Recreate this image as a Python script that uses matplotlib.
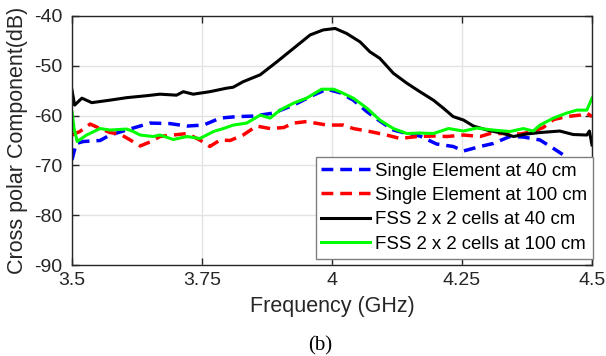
import matplotlib
matplotlib.use("Agg")
import matplotlib.pyplot as plt

# Single element at 40 cm (blue dashed)
freq_se40 = [3.500, 3.508, 3.522, 3.554, 3.573, 3.605, 3.650, 3.688, 3.721, 3.753,
             3.785, 3.817, 3.849, 3.887, 3.926, 3.964, 3.990, 4.015, 4.041, 4.067,
             4.092, 4.118, 4.144, 4.169, 4.201, 4.233, 4.253, 4.285, 4.310, 4.342,
             4.368, 4.400, 4.426, 4.445, 4.470, 4.500]
se40 = [-68.9, -65.6, -65.2, -65.0, -63.9, -62.9, -61.5, -61.6, -62.1, -61.9,
        -60.5, -60.2, -60.1, -59.5, -57.9, -55.9, -54.7, -55.4, -56.9, -59.2,
        -61.1, -62.9, -63.6, -64.1, -65.7, -66.2, -67.1, -66.2, -65.6, -64.2,
        -64.3, -64.9, -66.6, -67.9, -70.0, -72.0]

# Single element at 100 cm (red dashed)
freq_se100 = [3.500, 3.515, 3.535, 3.554, 3.573, 3.592, 3.612, 3.631, 3.650, 3.669,
              3.695, 3.721, 3.746, 3.765, 3.785, 3.804, 3.829, 3.855, 3.881, 3.907,
              3.926, 3.951, 3.990, 4.022, 4.041, 4.073, 4.105, 4.131, 4.163, 4.195,
              4.221, 4.253, 4.285, 4.304, 4.330, 4.362, 4.387, 4.406, 4.426, 4.451,
              4.477, 4.490, 4.500]
se100 = [-63.9, -63.2, -61.7, -62.6, -63.4, -63.7, -64.9, -66.1, -65.3, -64.2,
         -63.9, -63.6, -64.9, -66.2, -64.9, -65.0, -63.9, -62.1, -62.6, -62.4,
         -61.5, -61.2, -61.9, -61.9, -62.6, -63.2, -63.9, -64.6, -64.2, -64.1,
         -64.2, -63.9, -64.2, -63.6, -63.6, -63.7, -63.2, -62.4, -60.8, -60.2,
         -59.9, -59.5, -60.2]

# FSS 2 x 2 cells at 40 cm (black)
freq_fss40 = [3.500, 3.505, 3.519, 3.538, 3.573, 3.605, 3.644, 3.669, 3.701, 3.714,
              3.733, 3.765, 3.797, 3.810, 3.829, 3.862, 3.894, 3.926, 3.958, 3.983,
              4.006, 4.028, 4.054, 4.073, 4.092, 4.118, 4.144, 4.169, 4.195, 4.214,
              4.233, 4.253, 4.272, 4.298, 4.330, 4.349, 4.374, 4.400, 4.438, 4.464,
              4.490, 4.495, 4.500]
fss40 = [-54.9, -57.9, -56.5, -57.4, -56.9, -56.4, -56.0, -55.7, -55.9, -55.2,
         -55.7, -55.2, -54.5, -54.3, -53.2, -51.8, -49.2, -46.5, -43.8, -42.8,
         -42.5, -43.5, -45.2, -47.2, -48.5, -51.5, -53.5, -55.2, -56.9, -58.5,
         -60.2, -60.9, -62.1, -62.9, -63.6, -64.2, -63.7, -63.4, -63.1, -63.8,
         -63.9, -63.1, -65.9]

# FSS 2 x 2 cells at 100 cm (green)
freq_fss100 = [3.500, 3.504, 3.510, 3.528, 3.554, 3.573, 3.605, 3.618, 3.631, 3.656,
               3.669, 3.695, 3.721, 3.746, 3.772, 3.791, 3.810, 3.836, 3.862, 3.881,
               3.900, 3.926, 3.951, 3.980, 4.003, 4.015, 4.041, 4.067, 4.092, 4.118,
               4.144, 4.169, 4.195, 4.224, 4.253, 4.278, 4.310, 4.342, 4.368, 4.387,
               4.400, 4.426, 4.451, 4.471, 4.490, 4.500]
fss100 = [-59.2, -62.6, -65.2, -63.9, -62.6, -62.9, -62.7, -63.2, -63.9, -64.2,
          -63.9, -64.8, -64.2, -64.6, -63.2, -62.6, -61.9, -61.5, -59.9, -60.5,
          -58.9, -57.5, -56.5, -54.7, -54.7, -55.2, -56.5, -58.5, -60.9, -62.6,
          -63.6, -63.5, -63.6, -62.6, -63.1, -62.5, -62.9, -63.2, -62.6, -63.1,
          -61.9, -60.5, -59.5, -58.9, -58.9, -56.5]

x_ticks = [3.5, 3.75, 4.0, 4.25, 4.5]
x_tick_labels = ["3.5", "3.75", "4", "4.25", "4.5"]
y_ticks = [-90, -80, -70, -60, -50, -40]

plt.rcParams["font.family"] = ["Liberation Sans", "DejaVu Sans"]
plt.rcParams["axes.unicode_minus"] = False
text_color = "#262626"

fig = plt.figure(figsize=(6.06, 3.56), dpi=100)
fig.subplots_adjust(left=72 / 606, right=592 / 606, top=1 - 16 / 356, bottom=1 - 265 / 356)
ax = fig.add_subplot(111)

dash = (3.4, 2.0)
ax.plot(freq_se40, se40, color="#0000ff", lw=2.5, dashes=dash,
        label="Single Element at 40 cm")
ax.plot(freq_se100, se100, color="#ff0000", lw=2.5, dashes=dash,
        label="Single Element at 100 cm")
ax.plot(freq_fss40, fss40, color="#000000", lw=2.2,
        label="FSS 2 x 2 cells at 40 cm")
ax.plot(freq_fss100, fss100, color="#00ff00", lw=2.2,
        label="FSS 2 x 2 cells at 100 cm")

ax.set_xlim(3.5, 4.5)
ax.set_ylim(-90, -40)
ax.set_xticks(x_ticks)
ax.set_xticklabels(x_tick_labels)
ax.set_yticks(y_ticks)
ax.grid(True, color="#e3e3e3", lw=1.0)
ax.set_axisbelow(True)
ax.tick_params(direction="in", top=True, right=True, length=5, width=1,
               labelsize=14, colors=text_color)
ax.tick_params(axis="y", pad=7)
ax.tick_params(axis="x", pad=5)
for s in ax.spines.values():
    s.set_color(text_color)
    s.set_linewidth(1.0)

ax.set_xlabel("Frequency (GHz)", fontsize=15.5, color=text_color, labelpad=5)
ax.set_ylabel("Cross polar Component(dB)", fontsize=15.5, color=text_color, labelpad=4)

leg = ax.legend(loc="lower right", bbox_to_anchor=(593 / 606, 1 - 258.5 / 356),
                bbox_transform=fig.transFigure, borderaxespad=0, fontsize=13.4,
                handlelength=2.6, handletextpad=0.3, borderpad=0.3,
                labelspacing=0.4, fancybox=False, framealpha=1)
leg.get_frame().set_edgecolor("#7f7f7f")
leg.get_frame().set_linewidth(1.0)

fig.text(320 / 606, 1 - 346 / 356, "(b)", ha="center", va="center",
         fontsize=15, family="Liberation Serif")

fig.savefig("out.png", dpi=100)
